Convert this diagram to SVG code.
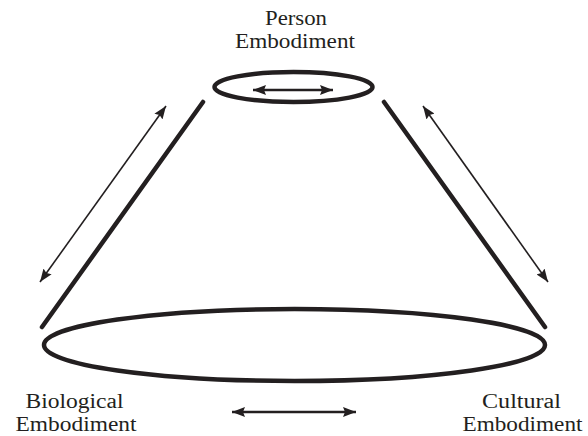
<svg xmlns="http://www.w3.org/2000/svg" width="588" height="436" viewBox="0 0 588 436">
  <style>
    .rim { fill: none; stroke: #231f20; stroke-width: 4.5; }
    .side { stroke: #231f20; stroke-width: 4.5; stroke-linecap: round; }
    .thin { stroke: #231f20; stroke-width: 1.6; }
    .flat { stroke: #231f20; stroke-width: 2.6; }
  </style>
  <defs>
    <marker id="tip" viewBox="0 0 13 10" refX="13" refY="5" markerWidth="13" markerHeight="10" markerUnits="userSpaceOnUse" orient="auto-start-reverse">
      <path d="M0,0 L13,5 L0,10 L2,5 Z" fill="#231f20"/>
    </marker>
  </defs>

  <g font-family="'Liberation Serif', 'Times New Roman', serif" font-size="20.5" fill="#231f20" text-anchor="middle">
    <!-- person level: small upper ring -->
    <g id="person">
      <ellipse class="rim" cx="293.5" cy="87" rx="79" ry="15"/>
      <text x="296" y="25" textLength="62" lengthAdjust="spacingAndGlyphs">Person</text>
      <text x="295" y="48" textLength="120" lengthAdjust="spacingAndGlyphs">Embodiment</text>
    </g>

    <!-- biological / cultural level: large lower ring -->
    <g id="base">
      <ellipse class="rim" cx="294.5" cy="345" rx="250.5" ry="36"/>
    </g>

    <g id="biological">
      <text x="74.5" y="408" textLength="98" lengthAdjust="spacingAndGlyphs">Biological</text>
      <text x="76" y="431" textLength="121" lengthAdjust="spacingAndGlyphs">Embodiment</text>
    </g>

    <g id="cultural">
      <text x="521.5" y="408" textLength="79" lengthAdjust="spacingAndGlyphs">Cultural</text>
      <text x="522.5" y="431" textLength="120" lengthAdjust="spacingAndGlyphs">Embodiment</text>
    </g>
  </g>

  <!-- cone sides and two-way arrows -->
  <g id="connectors">
    <line class="side" x1="203" y1="102" x2="42" y2="327"/>
    <line class="side" x1="384" y1="102" x2="545" y2="327"/>
    <line class="thin" x1="166" y1="106" x2="40" y2="282" marker-start="url(#tip)" marker-end="url(#tip)"/>
    <line class="thin" x1="423" y1="106" x2="548" y2="282" marker-start="url(#tip)" marker-end="url(#tip)"/>
    <line class="flat" x1="253" y1="90" x2="333" y2="90" marker-start="url(#tip)" marker-end="url(#tip)"/>
    <line class="flat" x1="232" y1="412" x2="356" y2="412" marker-start="url(#tip)" marker-end="url(#tip)"/>
  </g>
</svg>
